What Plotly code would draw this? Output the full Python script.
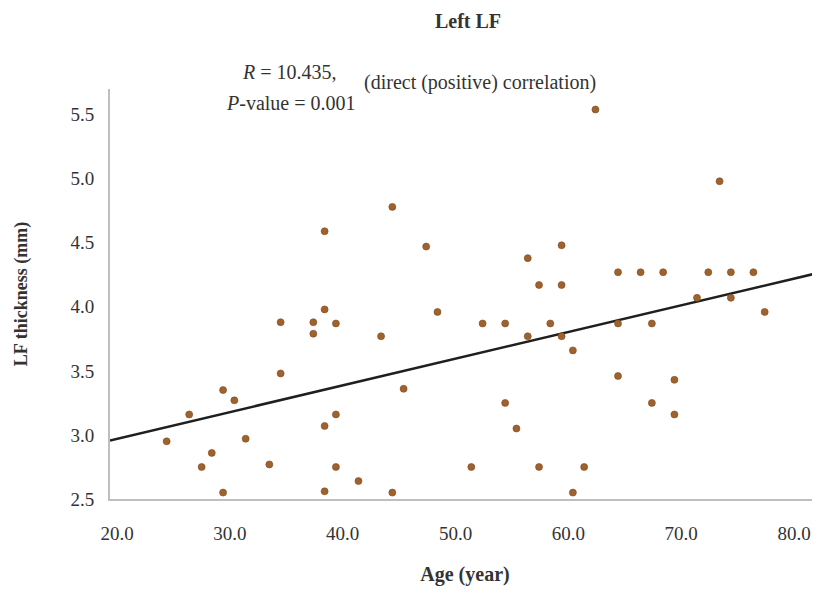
import numpy as np
import plotly.graph_objects as go

# Age (year) and LF thickness (mm)
age = [24.4, 26.4, 27.5, 28.4, 29.4, 29.4, 30.4, 31.4, 33.5, 34.5,
       34.5, 37.4, 37.4, 38.4, 38.4, 38.4, 38.4, 39.4, 39.4, 39.4,
       41.4, 43.4, 44.4, 44.4, 45.4, 47.4, 48.4, 51.4, 52.4, 54.4,
       54.4, 55.4, 56.4, 56.4, 57.4, 57.4, 58.4, 59.4, 59.4, 59.4,
       60.4, 60.4, 61.4, 62.4, 64.4, 64.4, 64.4, 66.4, 67.4, 67.4,
       68.4, 69.4, 69.4, 71.4, 72.4, 73.4, 74.4, 74.4, 76.4, 77.4]
thickness = [2.95, 3.16, 2.75, 2.86, 3.35, 2.55, 3.27, 2.97, 2.77, 3.88,
             3.48, 3.88, 3.79, 4.59, 3.98, 3.07, 2.56, 3.87, 3.16, 2.75,
             2.64, 3.77, 4.78, 2.55, 3.36, 4.47, 3.96, 2.75, 3.87, 3.87,
             3.25, 3.05, 4.38, 3.77, 4.17, 2.75, 3.87, 4.48, 4.17, 3.77,
             3.66, 2.55, 2.75, 5.54, 4.27, 3.87, 3.46, 4.27, 3.87, 3.25,
             4.27, 3.43, 3.16, 4.07, 4.27, 4.98, 4.27, 4.07, 4.27, 3.96]

x_ticks = [20, 30, 40, 50, 60, 70, 80]
y_ticks = [2.5, 3.0, 3.5, 4.0, 4.5, 5.0, 5.5]
x_range = [19.38, 82.3]
y_range = [2.5, 5.70]

# linear trendline (least squares)
slope, intercept = np.polyfit(age, thickness, 1)
trend_x = np.array(x_range)
trend_y = intercept + slope * trend_x

FONT = "Liberation Serif"
TXT = "#333333"
OFF = 8  # page body margin in the browser

fig = go.Figure()
fig.add_trace(go.Scatter(
    x=trend_x, y=trend_y, mode="lines",
    line=dict(color="#1f1f1f", width=2.5),
    showlegend=False, hoverinfo="skip", cliponaxis=False,
))
fig.add_trace(go.Scatter(
    x=age, y=thickness, mode="markers",
    marker=dict(size=7, color="#A0622D", line=dict(color="#7A4A22", width=0.6)),
    showlegend=False, cliponaxis=False,
))

W, H = 820 - OFF, 592 - OFF
fig.update_layout(
    width=W, height=H,
    margin=dict(l=110 - OFF, r=0, t=89 - OFF, b=H - (499 - OFF), autoexpand=False),
    paper_bgcolor="white", plot_bgcolor="white",
    font=dict(family=FONT, size=19, color=TXT),
    title=dict(text="<b>Left LF</b>", x=(468 - OFF)/W, xref="container", xanchor="center",
               y=1 - (21 - OFF)/H, yref="container", yanchor="middle",
               font=dict(family=FONT, size=20, color=TXT)),
    xaxis=dict(range=x_range, tickvals=x_ticks, ticktext=[f"{v:.1f}" for v in x_ticks],
               showgrid=False, zeroline=False, showline=True, linecolor="#BFBFBF",
               linewidth=2, ticks="", ticklabelstandoff=16, automargin=False,
               tickfont=dict(family=FONT, size=19, color=TXT),
               title=dict(text="<b>Age (year)</b>", standoff=24,
                          font=dict(family=FONT, size=20, color=TXT))),
    yaxis=dict(range=y_range, tickvals=y_ticks, ticktext=[f"{v:.1f}" for v in y_ticks],
               showgrid=False, zeroline=False, showline=True, linecolor="#BFBFBF",
               linewidth=2, ticks="", ticklabelstandoff=10, automargin=False,
               tickfont=dict(family=FONT, size=19, color=TXT),
               title=dict(text="<b>LF thickness (mm)</b>", standoff=38,
                          font=dict(family=FONT, size=18, color=TXT))),
)

fig.add_annotation(text="<i>R</i> = 10.435,", xref="paper", yref="paper",
                   x=(289-110)/710, y=(499-72)/410, xanchor="center", yanchor="middle",
                   showarrow=False, font=dict(family=FONT, size=20, color=TXT))
fig.add_annotation(text="<i>P</i>-value = 0.001", xref="paper", yref="paper",
                   x=(290-110)/710, y=(499-103)/410, xanchor="center", yanchor="middle",
                   showarrow=False, font=dict(family=FONT, size=20, color=TXT))
fig.add_annotation(text="(direct (positive) correlation)", xref="paper", yref="paper",
                   x=(362-110)/710, y=(499-82)/410, xanchor="left", yanchor="middle",
                   showarrow=False, font=dict(family=FONT, size=20, color=TXT))

fig.write_html("out.html")
